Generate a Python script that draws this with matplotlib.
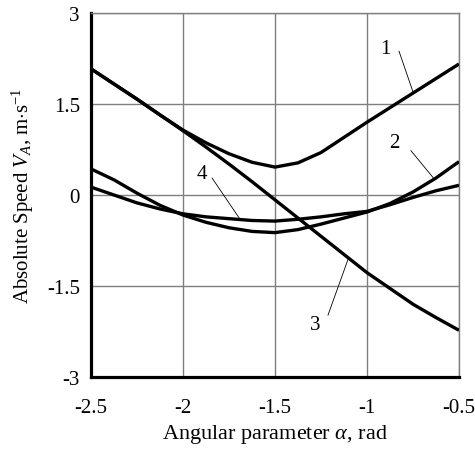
import numpy as np
import matplotlib
matplotlib.use("Agg")
import matplotlib.pyplot as plt

plt.rcParams["font.family"] = ["Liberation Serif", "DejaVu Serif"]
plt.rcParams["mathtext.fontset"] = "custom"
plt.rcParams["mathtext.rm"] = "Liberation Serif"
plt.rcParams["mathtext.it"] = "Liberation Serif:italic"

# angular parameter alpha, rad
alpha = [-2.5, -2.375, -2.25, -2.125, -2.0, -1.875, -1.75, -1.625, -1.5,
         -1.375, -1.25, -1.125, -1.0, -0.875, -0.75, -0.625, -0.5]

# absolute speed V_A, m/s
v1 = [2.08, 1.83, 1.58, 1.32, 1.07, 0.86, 0.68, 0.54, 0.46,
      0.53, 0.70, 0.95, 1.20, 1.44, 1.68, 1.92, 2.16]
v2 = [0.43, 0.25, 0.03, -0.17, -0.33, -0.45, -0.54, -0.60, -0.62,
      -0.57, -0.48, -0.38, -0.28, -0.14, 0.05, 0.28, 0.55]
v3 = [2.08, 1.83, 1.58, 1.32, 1.06, 0.79, 0.51, 0.22, -0.08,
      -0.38, -0.68, -0.98, -1.28, -1.54, -1.80, -2.02, -2.23]
v4 = [0.13, 0.0, -0.13, -0.23, -0.31, -0.36, -0.39, -0.42, -0.43,
      -0.40, -0.36, -0.31, -0.27, -0.16, -0.04, 0.07, 0.16]

curves = [v1, v2, v3, v4]
curve_names = ["1", "2", "3", "4"]
# label position, leader start, leader end (data coords)
label_xy = [(-0.90, 2.41), (-0.85, 0.87), (-1.28, -2.13), (-1.90, 0.35)]
leader_from = [(-0.826, 2.37), (-0.761, 0.73), (-1.212, -1.98), (-1.842, 0.28)]
leader_to = [(-0.75, 1.70), (-0.636, 0.27), (-1.103, -1.06), (-1.69, -0.40)]

xticks = [-2.5, -2.0, -1.5, -1.0, -0.5]
xlabels = ["-2.5", "-2", "-1.5", "-1", "-0.5"]
yticks = [-3.0, -1.5, 0.0, 1.5, 3.0]
ylabels = ["-3", "-1.5", "0", "1.5", "3"]

fig = plt.figure(figsize=(4.75, 4.52), dpi=100)
ax = fig.add_axes([0.1916, 0.1637, 0.7747, 0.8053])

for v in curves:
    ax.plot(alpha, v, color="black", lw=2.4, solid_joinstyle="round",
            solid_capstyle="butt", zorder=3)

for name, lxy, p0, p1 in zip(curve_names, label_xy, leader_from, leader_to):
    ax.text(lxy[0], lxy[1], name, fontsize=15, ha="center", va="center")
    ax.plot([p0[0], p1[0]], [p0[1], p1[1]], color="black", lw=0.6, zorder=2)

ax.set_xlim(-2.5, -0.5)
ax.set_ylim(-3, 3)
ax.set_xticks(xticks)
ax.set_xticklabels(xlabels, fontsize=15)
ax.set_yticks(yticks)
ax.set_yticklabels(ylabels, fontsize=15)
ax.tick_params(axis="x", length=0, pad=15)
ax.tick_params(axis="y", length=0, pad=8)
ax.grid(True, color="#7f7f7f", lw=1.0)
ax.set_axisbelow(True)

for s in ["left", "bottom"]:
    ax.spines[s].set_linewidth(2.3)
    ax.spines[s].set_color("black")
for s in ["top", "right"]:
    ax.spines[s].set_linewidth(1.0)
    ax.spines[s].set_color("#7f7f7f")

ax.set_xlabel(r"Angular parameter $\mathit{\alpha}$, rad", fontsize=16, labelpad=4)
ax.set_ylabel(r"Absolute Speed $V_A$, m$\cdot$s$^{\mathrm{-1}}$", fontsize=15, labelpad=8)

fig.savefig("out.png", dpi=100)
